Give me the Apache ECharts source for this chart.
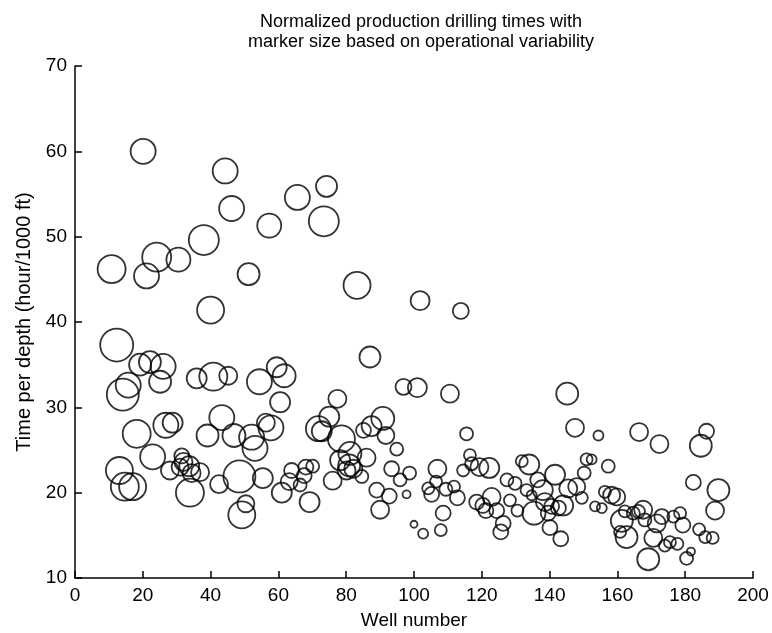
<!DOCTYPE html>
<html>
<head>
<meta charset="utf-8">
<script src="https://cdn.jsdelivr.net/npm/echarts@6/dist/echarts.min.js"></script>
<style>
  html, body { margin: 0; padding: 0; background: #fff; }
  #chart { width: 772px; height: 633px; }
</style>
</head>
<body>
<div id="chart"></div>
<script>
// Well number, normalized drilling time (hour/1000 ft) and operational variability per well
const wellNumber = [
  10.8, 12.3, 20.1, 21.1, 24.1, 30.5, 38.0, 40.0, 44.3, 46.2, 51.2, 57.3, 65.6, 73.4, 74.2, 83.2, 87.0, 101.8, 113.8,
  19.2, 22.1, 26.0, 15.7, 14.1, 25.1, 35.9, 40.8, 45.2, 54.4, 59.5, 61.7, 60.5, 77.4, 18.2, 26.8, 28.8, 39.1, 43.3, 46.9, 52.1, 53.1, 56.3, 57.8, 71.8, 72.8, 75.0, 78.6,
  22.9, 13.1, 14.7, 17.0, 28.0, 31.5, 32.0, 31.0, 33.7, 34.4, 36.9, 33.9, 42.5, 48.5, 55.4, 50.4, 49.2, 61.0, 63.2, 63.9, 66.4, 67.6, 68.1, 70.1, 69.2, 76.0, 78.2, 81.1, 80.9, 80.1, 82.1, 84.6,
  85.1, 87.5, 90.8, 91.7, 94.9, 86.0, 96.9, 101.0, 110.6, 115.5, 145.2, 147.5, 154.4, 166.4, 172.4, 186.3, 184.6,
  93.4, 95.9, 98.7, 89.0, 92.7, 97.8, 90.0, 100.0, 102.7, 104.2, 105.2, 106.5, 106.9, 109.4, 111.8, 112.8, 108.6, 107.9, 114.5, 116.5, 117.0, 119.3, 122.2, 118.5, 120.3, 122.9, 124.4, 121.2, 126.3, 125.6,
  127.4, 129.8, 128.3, 130.5, 131.8, 134.0, 133.2, 134.7, 135.4, 136.5, 138.6, 138.0, 140.1, 141.6, 140.6, 143.3, 145.5, 142.6, 148.0, 149.5, 144.0, 139.6, 150.9, 152.4, 150.2, 157.3, 153.4, 155.4, 156.3, 158.3, 159.8,
  161.3, 162.2, 160.8, 162.7, 164.7, 166.2, 167.6, 168.1, 171.6, 173.1, 176.5, 178.5, 179.3, 170.6, 174.0, 175.5, 177.7, 169.1, 180.4, 181.7, 184.1, 185.9, 188.1, 182.4, 189.8, 188.8
];
const timePerDepth = [
  46.2, 37.3, 60.0, 45.4, 47.6, 47.3, 49.6, 41.4, 57.7, 53.3, 45.6, 51.3, 54.6, 51.8, 55.9, 44.3, 35.9, 42.5, 41.3,
  35.0, 35.3, 34.8, 32.6, 31.5, 33.0, 33.4, 33.6, 33.7, 33.0, 34.7, 33.7, 30.6, 31.0, 26.9, 27.9, 28.2, 26.7, 28.8, 26.7, 26.5, 25.2, 28.2, 27.6, 27.5, 27.2, 28.9, 26.3,
  24.2, 22.6, 20.7, 20.7, 22.6, 24.3, 23.6, 23.0, 23.1, 22.3, 22.4, 20.0, 21.0, 21.9, 21.7, 18.7, 17.4, 20.0, 21.3, 22.6, 20.9, 22.0, 23.0, 23.1, 18.9, 21.4, 23.8, 24.6, 23.2, 22.6, 22.8, 21.9,
  27.3, 27.8, 28.7, 26.7, 25.1, 24.1, 32.4, 32.3, 31.6, 26.9, 31.6, 27.6, 26.7, 27.1, 25.7, 27.2, 25.5,
  22.8, 21.5, 22.3, 20.3, 19.6, 19.8, 18.0, 16.3, 15.2, 20.5, 19.8, 21.3, 22.8, 20.4, 20.7, 19.4, 17.6, 15.6, 22.6, 24.4, 23.4, 23.0, 22.9, 18.9, 18.5, 19.5, 17.9, 17.9, 16.4, 15.4,
  21.5, 21.1, 19.1, 17.9, 23.7, 23.3, 20.3, 19.7, 17.6, 21.5, 18.9, 20.3, 15.9, 22.1, 18.4, 14.6, 20.5, 18.2, 20.7, 19.4, 18.5, 17.6, 23.9, 23.9, 22.3, 23.1, 18.4, 18.2, 20.1, 19.7, 19.5,
  16.7, 17.8, 15.4, 14.8, 17.6, 17.8, 18.0, 16.8, 16.4, 17.2, 17.2, 17.6, 16.2, 14.7, 13.8, 14.2, 14.0, 12.2, 12.3, 13.1, 15.7, 14.8, 14.7, 21.2, 20.3, 17.9
];
const variability = [
  14, 16.5, 12.5, 12.5, 14.5, 12, 15, 13.5, 12.5, 12.5, 11, 12, 12.5, 15, 10.5, 13.5, 10.5, 9.5, 8,
  11, 11, 12.5, 12.5, 16, 11, 10, 14, 9, 12.5, 10, 11.5, 10, 9, 14, 12.5, 10, 11, 12.5, 11.5, 12.5, 12.5, 9, 12.5, 12.5, 10, 10, 13.5,
  12.5, 13.5, 14, 13.5, 9, 7.5, 9, 8.5, 10, 9, 9, 14, 9, 16, 10, 8.5, 13.5, 10, 8.5, 7.5, 6.5, 7.5, 7.5, 6.5, 10, 9, 10, 11.5, 11, 9, 9, 6.5,
  7.5, 10, 11.5, 8.5, 6.5, 9, 8, 9.5, 9, 6.5, 11, 9, 5, 9, 9, 7.5, 11,
  7.5, 6.5, 6.5, 7.5, 7.5, 4, 9, 3.5, 5, 6, 7.5, 6, 9, 6.5, 6, 7.5, 7.5, 6, 6, 6, 6.5, 9, 10, 7.5, 7.5, 9, 7.5, 7.5, 7.5, 7.5,
  6.5, 6.5, 6, 6, 6, 10, 6, 5, 11.5, 7.5, 9, 10, 7.5, 10, 7.5, 7.5, 9, 7.5, 8.5, 6, 10, 7.5, 6, 5, 6.5, 6.5, 5, 5, 6, 8.5, 8.5,
  11, 6, 6, 11, 6.5, 6.5, 9, 6.5, 9, 7.5, 6, 6, 7.5, 9, 6, 6, 6, 11, 6.5, 4, 6, 6, 6, 7.5, 11, 9
];

const xTicks = { min: 0, max: 200, interval: 20 };
const yTicks = { min: 10, max: 70, interval: 10 };

const points = wellNumber.map((w, i) => [w, timePerDepth[i], variability[i]]);

const chart = echarts.init(document.getElementById('chart'), null, { renderer: 'canvas' });

const axisCommon = {
  axisLine: { show: true, onZero: false, lineStyle: { color: '#000', width: 1.5 } },
  axisTick: { show: true, inside: true, length: 7, lineStyle: { color: '#000', width: 1.5 } },
  splitLine: { show: false },
  axisLabel: { margin: 8, fontFamily: 'Liberation Sans', fontSize: 19, color: '#000' }
};

chart.setOption({
  animation: false,
  backgroundColor: '#fff',
  title: {
    text: 'Normalized production drilling times with\nmarker size based on operational variability',
    left: 416,
    top: 7,
    textAlign: 'center',
    textStyle: { fontFamily: 'Liberation Sans', fontSize: 18, fontWeight: 'normal', color: '#000', lineHeight: 20 }
  },
  grid: { left: 75, right: 19, top: 66, bottom: 55, containLabel: false, outerBoundsMode: 'none' },
  xAxis: Object.assign({}, axisCommon, {
    type: 'value',
    min: xTicks.min, max: xTicks.max, interval: xTicks.interval,
    name: 'Well number', nameLocation: 'middle', nameGap: 33,
    nameTextStyle: { fontFamily: 'Liberation Sans', fontSize: 19, color: '#000' }
  }),
  yAxis: Object.assign({}, axisCommon, {
    type: 'value',
    min: yTicks.min, max: yTicks.max, interval: yTicks.interval,
    name: 'Time per depth (hour/1000 ft)', nameLocation: 'middle', nameGap: 40,
    nameTextStyle: { fontFamily: 'Liberation Sans', fontSize: 20, color: '#000' }
  }),
  series: [{
    type: 'scatter',
    data: points,
    symbol: 'circle',
    symbolSize: d => d[2] * 2,
    itemStyle: { color: 'rgba(0,0,0,0)', borderColor: '#000', borderWidth: 1.8 },
    emphasis: { disabled: true }
  }]
});
</script>
</body>
</html>
